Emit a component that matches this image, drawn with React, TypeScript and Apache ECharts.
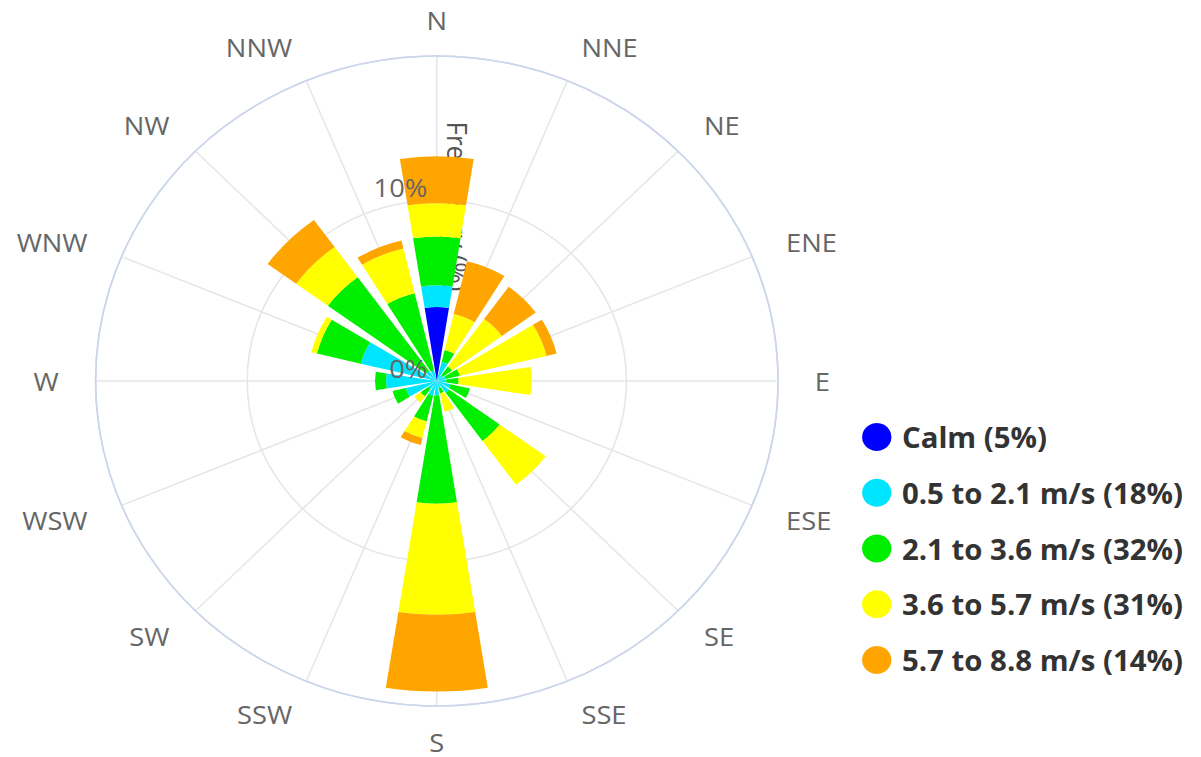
import React, { useEffect, useRef } from 'react';
import * as echarts from 'echarts';

// Wind directions (angle axis categories), clockwise from north
const directions = ['N', 'NNE', 'NE', 'ENE', 'E', 'ESE', 'SE', 'SSE', 'S', 'SSW', 'SW', 'WSW', 'W', 'WNW', 'NW', 'NNW'];

// Series names (legend) and colours
const seriesNames = ['Calm (5%)', '0.5 to 2.1 m/s (18%)', '2.1 to 3.6 m/s (32%)', '3.6 to 5.7 m/s (31%)', '5.7 to 8.8 m/s (14%)'];
const seriesColors = ['#0000ff', '#00e5ff', '#00ee00', '#ffff00', '#ffa500'];

// Frequencies (%) per direction, stacked from the centre outwards
const calm = [4.1, 0, 0, 0, 0, 0, 0, 0, 0, 0, 0, 0, 0, 0, 0, 0];
const speed05to21 = [1.2, 1.1, 0.4, 0.5, 0.5, 0.75, 0.8, 0.4, 0.8, 0.85, 0.55, 1.68, 2.68, 4.12, 0.7, 0.6];
const speed21to36 = [2.7, 0.67, 0.6, 0.75, 0.65, 1.05, 3.3, 0.3, 6.0, 1.45, 0.5, 0.72, 0.58, 2.38, 6.4, 4.4];
const speed36to57 = [1.85, 2.05, 3.25, 4.7, 3.85, 0, 3.0, 1.05, 6.15, 0.95, 0.42, 0, 0, 0.3, 2.07, 2.55];
const speed57to88 = [2.6, 3.0, 2.2, 0.55, 0, 0, 0, 0, 4.25, 0.4, 0, 0, 0, 0, 1.86, 0.45];

// Radial axis
const radiusMin = 0;
const radiusMax = 18;
const radiusInterval = 10;
const radiusTickLabels = [0, 10];
const radiusTitle = 'Frequency (%)';

const seriesData = [calm, speed05to21, speed21to36, speed36to57, speed57to88];

const FONT = "'Open Sans', 'DejaVu Sans', sans-serif";
const CENTER = [416, 381];
const RADIUS = 325;

export default function App() {
  const ref = useRef<HTMLDivElement>(null);

  useEffect(() => {
    if (!ref.current) return;
    const chart = echarts.init(ref.current, null, { renderer: 'svg' });
    const sector = 360 / directions.length;
    chart.setOption({
      animation: false,
      backgroundColor: '#ffffff',
      legend: {
        orient: 'vertical',
        left: 816,
        top: 418,
        icon: 'circle',
        itemWidth: 28,
        itemHeight: 28,
        itemGap: 27.75,
        textStyle: {
          fontFamily: FONT,
          fontSize: 28,
          fontWeight: 'bold',
          color: '#333333',
          padding: [0, 0, 0, 5],
        },
        data: seriesNames,
      },
      polar: [
        { center: CENTER, radius: RADIUS },
        { center: CENTER, radius: RADIUS },
        { center: CENTER, radius: RADIUS },
      ],
      angleAxis: [
        {
          // direction categories: bars, labels and outer circle
          polarIndex: 0,
          type: 'category',
          data: directions,
          boundaryGap: true,
          startAngle: 90 + sector / 2,
          clockwise: true,
          axisLine: { show: true, lineStyle: { color: '#ccd6eb', width: 1.5 } },
          axisTick: { show: false },
          axisLabel: {
            interval: 0,
            margin: 35,
            lineHeight: 2,
            color: '#666666',
            fontFamily: FONT,
            fontSize: 26,
          },
          splitLine: { show: false },
          z: 0,
        },
        {
          // spokes through the middle of each direction
          polarIndex: 1,
          type: 'value',
          min: 0,
          max: 360,
          interval: sector,
          startAngle: 90,
          clockwise: true,
          axisLine: { show: false },
          axisTick: { show: false },
          axisLabel: { show: false },
          splitLine: { show: true, lineStyle: { color: '#e6e6e6', width: 1.5 } },
          z: 0,
        },
        {
          polarIndex: 2,
          type: 'value',
          min: 0,
          max: 360,
          startAngle: 90,
          show: false,
        },
      ],
      radiusAxis: [
        {
          // grid circles
          polarIndex: 0,
          type: 'value',
          min: radiusMin,
          max: radiusMax,
          interval: radiusInterval,
          axisLine: { show: false },
          axisTick: { show: false },
          axisLabel: { show: false },
          splitLine: { show: true, lineStyle: { color: ['#e6e6e6', '#e6e6e6', '#ccd6eb'], width: 1.5 } },
          z: 0,
        },
        {
          // axis title, beneath the bars
          polarIndex: 1,
          type: 'value',
          min: radiusMin,
          max: radiusMax,
          interval: radiusInterval,
          axisLine: { show: false },
          axisTick: { show: false },
          axisLabel: { show: false },
          splitLine: { show: false },
          name: radiusTitle,
          nameLocation: 'middle',
          nameRotate: -90,
          nameGap: 6,
          nameTextStyle: {
            fontFamily: FONT,
            fontSize: 26,
            color: '#555555',
            padding: [0, 24, 0, 0],
          },
          z: 0,
        },
        {
          // tick labels, above the bars
          polarIndex: 2,
          type: 'value',
          min: radiusMin,
          max: radiusMax,
          interval: radiusInterval,
          axisLine: { show: false },
          axisTick: { show: false },
          splitLine: { show: false },
          axisLabel: {
            margin: 9,
            verticalAlign: 'bottom',
            color: '#666666',
            fontFamily: FONT,
            fontSize: 26,
            formatter: (v: number) => (radiusTickLabels.indexOf(v) >= 0 ? v + '%' : ''),
          },
          z: 10,
        },
      ],
      series: seriesNames.map((name, i) => ({
        type: 'bar',
        coordinateSystem: 'polar',
        polarIndex: 0,
        name,
        stack: 'wind',
        data: seriesData[i],
        barCategoryGap: '20%',
        itemStyle: { color: seriesColors[i] },
        z: 2,
      })),
    });
    return () => chart.dispose();
  }, []);

  return (
    <div
      style={{
        position: 'fixed',
        left: 0,
        top: 0,
        width: 1201,
        height: 757,
        overflow: 'hidden',
        background: '#ffffff',
      }}
    >
      <div
        ref={ref}
        style={{ width: 1144, height: 757, transform: 'scaleX(1.05)', transformOrigin: '0 0' }}
      />
    </div>
  );
}
